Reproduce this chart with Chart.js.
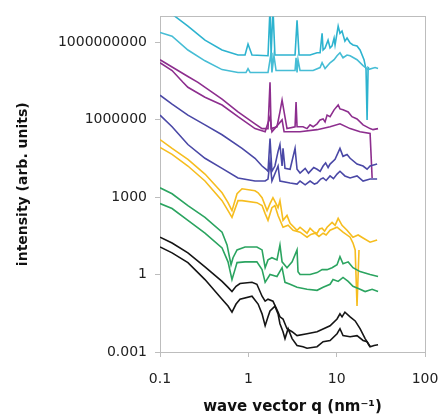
<!DOCTYPE html>
<html>
<head>
<meta charset="utf-8">
<script src="https://cdn.jsdelivr.net/npm/chart.js@4.4.1/dist/chart.umd.min.js"></script>
<style>
  html, body { margin: 0; padding: 0; background: #fff; }
  #wrap { width: 440px; height: 420px; }
</style>
</head>
<body>
<div id="wrap"><canvas id="chart" width="440" height="420"></canvas></div>
<script>
// scattering curves, q (nm^-1) vs intensity, two traces per sample, stacked by offset
const xTicks = [0.1, 1, 10, 100];
const yTicks = [0.001, 1, 1000, 1000000, 1000000000];

const qCyan1 = [0.1,0.148,0.207,0.323,0.504,0.764,0.918,0.992,1.10,1.67,1.76,1.81,1.90,2.00,3.38,3.56,3.75,5.00,6.00,6.49,6.84,7.02,7.39,7.99,8.42,8.87,9.35,9.59,10.4,10.9,11.5,12.4,13.1,14.2,15.3,17.0,18.4,20.4,21.5,22.1,22.7,23.3];
const iCyan1 = [2.7e10,1.0e10,4.2e9,1.2e9,5.0e8,3.2e8,3.2e8,8.5e8,3.2e8,3.0e8,2e10,3.2e8,2e10,3.2e8,3.2e8,7.0e9,3.2e8,3.2e8,3.9e8,3.9e8,2.2e9,5.0e8,6.0e8,1.2e9,6.0e8,7.2e8,1.45e9,7.8e8,4.2e9,2.2e9,2.7e9,1.1e9,1.45e9,9.3e8,7.8e8,7.2e8,5.0e8,2.1e8,8.7e7,9.8e5,1.04e8,9.5e7];

const qCyan2 = [0.1,0.137,0.207,0.323,0.504,0.764,0.941,0.992,1.05,1.67,1.81,1.85,1.95,2.06,3.38,3.47,3.56,3.65,3.85,5.41,6.49,6.84,7.39,8.42,9.35,10.1,10.9,11.8,13.1,14.2,17.0,19.9,22.7,27.2,29.4];
const iCyan2 = [2.4e9,1.7e9,5.0e8,1.9e8,8.7e7,6.7e7,6.7e7,9.5e7,6.7e7,6.7e7,3.9e8,6.7e7,3.0e8,8.0e7,8.0e7,2.5e8,6.7e7,2.1e8,8.0e7,8.0e7,1.04e8,1.6e8,9.5e7,1.6e8,2.1e8,3.0e8,3.9e8,2.5e8,3.2e8,3.0e8,2.1e8,1.24e8,8.7e7,1.04e8,9.5e7];

const qPurple1 = [0.1,0.137,0.207,0.269,0.504,0.764,1.19,1.43,1.67,1.76,1.81,2.11,2.28,2.41,2.54,2.74,3.38,3.47,3.56,4.16,4.62,5.00,5.41,6.00,6.49,7.02,7.39,7.79,8.42,9.35,10.4,10.9,11.8,13.5,14.9,17.0,19.9,23.9,25.8,29.4];
const iPurple1 = [2.1e8,1.1e8,4.7e7,2.8e7,6.2e6,2.0e6,6.9e5,4.5e5,4.5e5,2.8e7,4.5e5,5.3e5,2.0e6,5.7e6,2.0e6,4.5e5,5.3e5,4.8e6,5.3e5,5.3e5,4.5e5,6.3e5,5.3e5,6.9e5,9.8e5,1.07e6,8.2e5,1.5e6,1.3e6,2.4e6,3.7e6,2.6e6,2.4e6,2.0e6,1.3e6,1.07e6,6.3e5,4.5e5,4.1e5,4.5e5];

const qPurple2 = [0.1,0.137,0.182,0.207,0.323,0.504,0.764,1.19,1.55,1.76,1.85,2.41,2.54,3.85,6.00,8.42,10.9,14.2,18.4,23.9,25.2];
const iPurple2 = [1.6e8,8.0e7,2.8e7,1.8e7,7.4e6,3.7e6,1.3e6,4.5e5,3.4e5,1.3e6,3.4e5,9.8e5,3.4e5,3.4e5,4.1e5,5.3e5,6.9e5,4.5e5,3.4e5,2.9e5,5.5e3];

const qBlue1 = [0.1,0.137,0.207,0.323,0.504,0.849,1.19,1.43,1.59,1.67,1.76,1.85,2.00,2.17,2.28,2.41,2.47,2.60,2.97,3.38,3.56,3.85,4.40,4.80,5.50,6.00,6.50,7.02,7.50,8.00,8.42,9.59,10.9,11.8,13.1,14.2,17.0,19.9,22.1,23.9,28.7];
const iBlue1 = [8.9e6,4.0e6,1.5e6,6.3e5,2.6e5,7.7e4,3.2e4,1.6e4,1.2e4,1.0e4,1.85e5,1.0e4,1.6e4,5.9e4,1.09e5,1.6e4,7.7e4,1.3e4,1.2e4,7.7e4,1.2e4,8.5e3,1.3e4,8.5e3,1.4e4,1.2e4,1.0e4,1.6e4,2.1e4,1.4e4,1.9e4,2.9e4,7.7e4,3.8e4,4.5e4,3.2e4,1.9e4,1.6e4,1.2e4,1.6e4,1.9e4];

const qBlue2 = [0.1,0.137,0.207,0.323,0.504,0.764,1.19,1.55,1.67,1.76,1.85,2.17,2.28,2.97,3.56,3.85,4.40,5.00,5.60,6.00,6.60,7.02,7.60,8.42,9.20,10.1,10.9,12.4,14.2,17.0,19.9,23.9,28.7];
const iBlue2 = [1.5e6,5.3e5,1.09e5,3.2e4,1.3e4,5.5e3,4.2e3,4.2e3,5.0e3,2.4e4,4.2e3,1.6e4,4.2e3,3.5e3,3.2e3,4.2e3,3.0e3,4.2e3,3.2e3,3.5e3,5.0e3,5.5e3,4.4e3,6.6e3,5.2e3,7.8e3,1.0e4,6.6e3,5.5e3,6.6e3,4.2e3,5.0e3,5.0e3];

const qOrange1 = [0.1,0.137,0.207,0.323,0.504,0.589,0.653,0.745,0.849,1.19,1.29,1.43,1.63,1.76,1.90,2.06,2.17,2.28,2.47,2.74,2.97,3.56,3.85,4.62,5.00,5.50,6.00,6.40,6.84,7.30,7.79,8.87,9.60,10.4,11.5,13.1,15.3,17.5,19.9,23.9,28.7];
const iOrange1 = [1.7e5,7.7e4,2.9e4,7.8e3,1470,610,300,1350,2100,1750,1470,950,300,560,950,560,390,730,126,195,97,52,68,40,62,45,40,58,62,48,68,105,80,150,81,52,28,34,26,18,22];

const qOrange2 = [0.1,0.137,0.207,0.323,0.504,0.589,0.653,0.764,0.849,1.25,1.43,1.55,1.67,1.85,2.00,2.17,2.47,2.82,3.21,3.85,4.62,5.10,5.69,6.30,7.02,7.60,8.42,10.1,11.8,14.2,15.3,16.2,17.0,17.9];
const iOrange2 = [8.4e4,4.5e4,1.6e4,4.2e3,730,300,164,730,730,610,470,230,126,390,470,195,68,81,52,44,28,36,40,30,40,34,52,68,44,28,16.6,9.0,0.06,9.0];

const qGreen1 = [0.1,0.137,0.207,0.323,0.504,0.574,0.637,0.671,0.745,0.918,1.25,1.43,1.55,1.67,1.85,2.11,2.28,2.41,2.74,3.13,3.56,3.65,3.85,5.00,6.00,6.84,7.79,8.87,10.1,10.9,11.8,13.5,15.3,18.4,23.9,29.4];
const iGreen1 = [2300,1350,470,164,44,14,2.4,4.5,9.0,11.7,11.7,9.0,1.85,3.7,4.5,3.7,14,3.1,1.85,3.1,9.0,1.3,1.0,1.0,1.19,1.55,1.55,1.85,2.4,4.9,2.6,3.1,1.85,1.3,1.0,0.84];

const qGreen2 = [0.1,0.137,0.207,0.323,0.504,0.589,0.653,0.706,0.745,0.918,1.25,1.43,1.55,1.76,2.11,2.41,2.60,2.97,3.56,4.62,6.00,7.02,8.42,9.10,10.4,11.8,13.5,15.3,18.4,21.0,25.2,29.4];
const iGreen2 = [560,360,126,40,10.7,3.1,0.64,1.55,2.9,3.1,3.1,1.55,0.50,1.0,0.84,1.85,0.50,0.42,0.32,0.27,0.245,0.32,0.42,0.64,0.54,0.77,0.54,0.35,0.27,0.22,0.27,0.22];

const qBlack1 = [0.1,0.137,0.207,0.323,0.504,0.589,0.653,0.726,0.805,1.10,1.25,1.43,1.55,1.67,1.90,2.17,2.28,2.47,2.74,3.13,3.56,4.62,6.00,8.42,10.1,10.9,11.5,12.4,14.2,16.2,18.4,21.0,23.9,26.5,29.4];
const iBlack1 = [28,16.6,6.9,2.0,0.54,0.32,0.22,0.35,0.45,0.50,0.42,0.145,0.093,0.111,0.093,0.035,0.023,0.019,0.0080,0.0061,0.0043,0.0051,0.0061,0.0104,0.019,0.030,0.023,0.035,0.023,0.016,0.0080,0.0033,0.0016,0.0018,0.0019];

const qBlack2 = [0.1,0.137,0.207,0.323,0.504,0.589,0.653,0.726,0.805,1.10,1.29,1.43,1.55,1.67,1.76,2.00,2.17,2.28,2.47,2.60,2.82,3.13,3.56,4.16,4.62,6.00,7.02,8.42,10.1,10.9,11.8,14.2,17.0,19.9,22.1,23.9];
const iBlack2 = [11.7,6.9,2.9,0.64,0.111,0.060,0.035,0.072,0.111,0.145,0.072,0.030,0.0104,0.023,0.039,0.060,0.030,0.0124,0.0061,0.0033,0.0080,0.0033,0.0018,0.0016,0.0014,0.0016,0.0025,0.0028,0.0051,0.0080,0.0043,0.0039,0.0043,0.0028,0.0025,0.0016];

const CYAN = '#2db3cf', CYAN_LT = '#46bdd5', PURPLE = '#8d2e8e', BLUE = '#4a48a6',
      ORANGE = '#f6bd1f', GREEN = '#2ba460', BLACK = '#151515', AXIS = '#bdbdbd';

const pts = (q, I) => q.map((v, i) => ({ x: v, y: I[i] }));
const line = (q, I, color) => ({
    data: pts(q, I), borderColor: color, borderWidth: 1.6,
    pointRadius: 0, tension: 0, fill: false
});

// light grey box round the plot area
const frame = {
    id: 'frame',
    beforeDatasetsDraw(chart) {
        const { ctx, chartArea: a } = chart;
        ctx.save();
        ctx.strokeStyle = AXIS;
        ctx.lineWidth = 1;
        ctx.strokeRect(Math.round(a.left) + 0.5, Math.round(a.top) + 0.5,
            Math.round(a.right - a.left), Math.round(a.bottom - a.top));
        ctx.restore();
    }
};

Chart.defaults.font.family = "'DejaVu Sans', Verdana, sans-serif";

new Chart(document.getElementById('chart'), {
    type: 'line',
    data: {
        datasets: [
            line(qBlack1, iBlack1, BLACK),
            line(qBlack2, iBlack2, BLACK),
            line(qGreen1, iGreen1, GREEN),
            line(qGreen2, iGreen2, GREEN),
            line(qOrange1, iOrange1, ORANGE),
            line(qOrange2, iOrange2, ORANGE),
            line(qBlue1, iBlue1, BLUE),
            line(qBlue2, iBlue2, BLUE),
            line(qPurple2, iPurple2, PURPLE),
            line(qPurple1, iPurple1, PURPLE),
            line(qCyan2, iCyan2, CYAN_LT),
            line(qCyan1, iCyan1, CYAN)
        ]
    },
    options: {
        responsive: false,
        animation: false,
        layout: { padding: { left: 11, top: 13, right: 15, bottom: 0 } },
        plugins: { legend: { display: false }, tooltip: { enabled: false } },
        scales: {
            x: {
                type: 'logarithmic', min: 0.1, max: 100,
                afterBuildTicks: s => { s.ticks = xTicks.map(v => ({ value: v })); },
                // fixed axis band; edge labels may hang into the margins
                afterFit: s => { s.height = 68; s.paddingLeft = 0; s.paddingRight = 0; },
                ticks: { callback: v => String(v), color: '#222', font: { size: 14 }, padding: 14, maxRotation: 0, autoSkip: false },
                grid: { drawOnChartArea: false, tickLength: 5, color: AXIS },
                border: { color: AXIS },
                title: { display: true, text: 'wave vector q (nm⁻¹)', color: '#111',
                         font: { size: 15, weight: 'bold' }, padding: { top: 4, bottom: 4 } }
            },
            y: {
                type: 'logarithmic', min: 0.001, max: 1e10,
                afterBuildTicks: s => { s.ticks = yTicks.map(v => ({ value: v })); },
                afterFit: s => { s.width = 149; },
                ticks: { callback: v => String(v), color: '#222', font: { size: 14 }, padding: 8, autoSkip: false },
                grid: { drawOnChartArea: false, tickLength: 5, color: AXIS },
                border: { color: AXIS },
                title: { display: true, text: 'intensity (arb. units)', color: '#111',
                         font: { size: 14, weight: 'bold' }, padding: { top: 4, bottom: 4 } }
            }
        }
    },
    plugins: [frame]
});
</script>
</body>
</html>
